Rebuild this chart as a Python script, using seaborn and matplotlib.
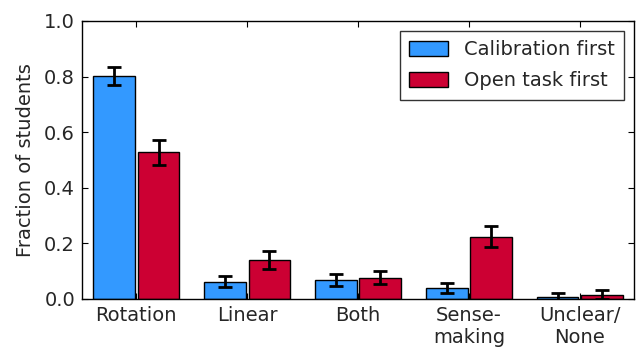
import matplotlib
matplotlib.use("Agg")
import matplotlib.pyplot as plt
import numpy as np
import pandas as pd
import seaborn as sns

categories = ["Rotation", "Linear", "Both", "Sense-\nmaking", "Unclear/\nNone"]
groups = ["Calibration first", "Open task first"]
calib_vals = [0.802, 0.062, 0.068, 0.038, 0.008]
calib_err = [0.034, 0.020, 0.023, 0.018, 0.015]
open_vals = [0.528, 0.140, 0.077, 0.224, 0.015]
open_err = [0.045, 0.034, 0.025, 0.039, 0.016]
colors = ["#3399FF", "#CC0033"]

sns.set_style("ticks")
plt.rcParams.update({
    "font.family": ["DejaVu Sans"],
    "font.size": 14,
    "xtick.direction": "in",
    "ytick.direction": "in",
    "xtick.major.size": 4,
    "ytick.major.size": 4,
    "axes.linewidth": 1.0,
    "axes.edgecolor": "black",
    "xtick.color": "black",
    "ytick.color": "black",
    "text.color": "#262626",
})

df = pd.DataFrame({
    "category": categories * 2,
    "group": [groups[0]] * len(categories) + [groups[1]] * len(categories),
    "value": calib_vals + open_vals,
})

fig = plt.figure(figsize=(6.36, 3.5), dpi=100)
ax = fig.add_axes([0.129, 0.146, 0.868, 0.794])

sns.barplot(data=df, x="category", y="value", hue="group", order=categories,
            hue_order=groups, palette=colors, errorbar=None, width=0.8, gap=0.06,
            edgecolor="black", linewidth=1.0, saturation=1, ax=ax)

# error bars at the centre of each drawn bar
errs = {groups[0]: calib_err, groups[1]: open_err}
vals = {groups[0]: calib_vals, groups[1]: open_vals}
bars = ax.patches[:2 * len(categories)]
for gi, g in enumerate(groups):
    for ci in range(len(categories)):
        p = bars[gi * len(categories) + ci]
        xc = p.get_x() + p.get_width() / 2
        ax.errorbar(xc, vals[g][ci], yerr=errs[g][ci], color="black",
                    elinewidth=2, capsize=4.7, capthick=2, fmt="none", zorder=5)

ax.set_xlim(-0.49, 4.49)
ax.set_ylim(0, 1.0)
ax.set_yticks([0.0, 0.2, 0.4, 0.6, 0.8, 1.0])
ax.set_xlabel("")
ax.set_ylabel("Fraction of students", fontsize=14, labelpad=7)
ax.tick_params(axis="both", labelsize=14, top=True, right=True, colors="black",
               labelcolor="#262626", pad=5)
for s in ax.spines.values():
    s.set_visible(True)
    s.set_color("black")

leg = ax.legend(loc="upper right", frameon=True, fancybox=False, fontsize=14,
                edgecolor="black", handlelength=2.0, handleheight=0.8,
                labelspacing=0.6, borderpad=0.5)
leg.get_frame().set_linewidth(1.0)

fig.savefig("out.png", dpi=100, facecolor="white")
